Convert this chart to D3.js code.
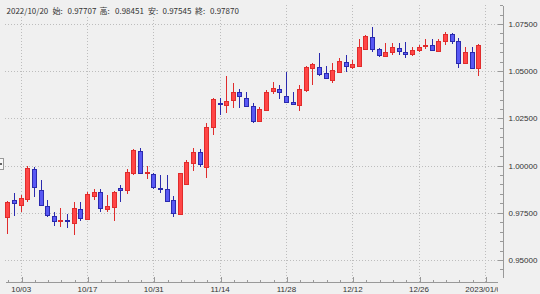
<!DOCTYPE html>
<html>
<head>
<meta charset="utf-8">
<script src="https://cdn.jsdelivr.net/npm/d3@7"></script>
<style>
  body { margin: 0; background: #f0f0f0; }
  svg { display: block; font-family: "Noto Sans CJK JP", "Noto Sans", sans-serif; }
  .axis text { fill: #333; font-size: 8px; }
  .axis line, .axis path { stroke: #999; shape-rendering: crispEdges; }
  .grid line { stroke: #bdbdbd; stroke-dasharray: 1, 2; shape-rendering: crispEdges; }
</style>
</head>
<body>
<div id="chart"></div>
<script>
// daily candles, 2022/09/29 .. 2023/01/06 (weekdays)
var openP = [
  0.9729, 0.9818, 0.9791, 0.9822, 0.9982, 0.9871, 0.9788, 0.9733, 0.9706, 0.9711,
  0.9697, 0.9770, 0.9717, 0.9839, 0.9859, 0.97707, 0.9782, 0.9883, 0.9871, 0.9959,
  1.0079, 0.9960, 0.9954, 0.9880, 0.9876, 0.9818, 0.9744, 0.9905, 1.0015, 1.0074,
  0.9993, 1.0203, 1.0331, 1.0325, 1.0344, 1.0388, 1.0356, 1.0317, 1.0238, 1.0298,
  1.0391, 1.0406, 1.0369, 1.0338, 1.0321, 1.0400, 1.0515, 1.0524, 1.0489, 1.0454,
  1.0497, 1.0550, 1.0521, 1.0528, 1.0621, 1.0680, 1.0616, 1.0582, 1.0600, 1.0621,
  1.0603, 1.0590, 1.0609, 1.0636, 1.0639, 1.0607, 1.0656, 1.0695, 1.0660, 1.0542,
  1.0600, 1.0515]
var highP = [
  0.9810, 0.9856, 0.9844, 0.9999, 0.9994, 0.9924, 0.9818, 0.9756, 0.9774, 0.9744,
  0.9806, 0.9809, 0.9862, 0.9876, 0.9876, 0.98451, 0.9865, 0.9897, 0.9980, 1.0087,
  1.0092, 0.9998, 0.9959, 0.9950, 0.9950, 0.9839, 0.9962, 1.0030, 1.0095, 1.0086,
  1.0224, 1.0356, 1.0356, 1.0475, 1.0436, 1.0404, 1.0391, 1.0330, 1.0309, 1.0400,
  1.0444, 1.0427, 1.0497, 1.0391, 1.0427, 1.0528, 1.0542, 1.0595, 1.0527, 1.0545,
  1.0568, 1.0586, 1.0559, 1.0669, 1.0692, 1.0732, 1.0623, 1.0651, 1.0648, 1.0648,
  1.0656, 1.0627, 1.0637, 1.0668, 1.0670, 1.0669, 1.0706, 1.0700, 1.0674, 1.0630,
  1.0627, 1.0642]
var lowP = [
  0.9636, 0.9733, 0.9756, 0.9809, 0.9835, 0.9788, 0.9726, 0.9680, 0.9673, 0.9668,
  0.9632, 0.9708, 0.9716, 0.9818, 0.9756, 0.97545, 0.9707, 0.9806, 0.9850, 0.9950,
  0.9959, 0.9927, 0.9874, 0.9853, 0.9809, 0.9729, 0.9740, 0.9903, 0.9971, 0.9991,
  0.9933, 1.0162, 1.0268, 1.0277, 1.0303, 1.0303, 1.0312, 1.0224, 1.0233, 1.0295,
  1.0379, 1.0353, 1.0330, 1.0321, 1.0291, 1.0391, 1.0427, 1.0475, 1.0457, 1.0439,
  1.0492, 1.0497, 1.0510, 1.0522, 1.0616, 1.0603, 1.0574, 1.0574, 1.0586, 1.0586,
  1.0568, 1.0580, 1.0603, 1.0615, 1.0607, 1.0603, 1.0639, 1.0644, 1.0519, 1.0538,
  1.0512, 1.0475]
var closeP = [
  0.9809, 0.9800, 0.9827, 0.9986, 0.9885, 0.9791, 0.9739, 0.9707, 0.9711, 0.9707,
  0.9777, 0.9724, 0.9848, 0.9859, 0.9774, 0.97870, 0.9862, 0.9872, 0.9968, 1.0083,
  0.9962, 0.9964, 0.9883, 0.9875, 0.9813, 0.9751, 0.9959, 1.0021, 1.0074, 1.0012,
  1.0206, 1.0353, 1.0327, 1.0344, 1.0388, 1.0365, 1.0316, 1.0236, 1.0300, 1.0391,
  1.0409, 1.0391, 1.0338, 1.0325, 1.0404, 1.0524, 1.0538, 1.0485, 1.0462, 1.0506,
  1.0554, 1.0529, 1.0538, 1.0630, 1.0688, 1.0616, 1.0586, 1.0603, 1.0626, 1.0603,
  1.0591, 1.0612, 1.0627, 1.0639, 1.0612, 1.0660, 1.0695, 1.0660, 1.0542, 1.0600,
  1.0515, 1.0639]

// bottom axis: label every 10 sessions, small tick every 2
var tickIndex = [2, 12, 22, 32, 42, 52, 62, 72]
var tickLabels = ["10/03", "10/17", "10/31", "11/14", "11/28", "12/12", "12/26", "2023/01/09"]
var priceTicks = [0.95, 0.975, 1.0, 1.025, 1.05, 1.075]

// header readout of the hovered day
var headerDate = "2022/10/20"
var headerNames = ["始:", "高:", "安:", "終:"]
var headerIdx = 15

var W = 540, H = 294
var plot = {left: 5, right: 497, top: 5, bottom: 277, axisY: 282, axisX: 502}

var svg = d3.select("#chart").append("svg")
    .attr("width", W)
    .attr("height", H)

svg.append("rect").attr("width", W).attr("height", H).attr("fill", "#f0f0f0")

var x = d3.scaleLinear().domain([-0.37, 73.84]).range([plot.left, plot.right])
var y = d3.scaleLinear().domain([0.94099, 1.08506]).range([plot.bottom, plot.top])

var minorX = d3.range(0, 74, 2)
var minorY = d3.range(189, 218).map(d => d * 0.005)

// grid
var grid = svg.append("g").attr("class", "grid")
grid.selectAll(".gx")
    .data(tickIndex)
    .enter().append("line")
    .attr("x1", d => Math.round(x(d)) + 0.5)
    .attr("x2", d => Math.round(x(d)) + 0.5)
    .attr("y1", plot.top)
    .attr("y2", plot.axisY)
grid.selectAll(".gy")
    .data(priceTicks)
    .enter().append("line")
    .attr("x1", plot.left)
    .attr("x2", plot.axisX)
    .attr("y1", d => Math.round(y(d)) + 0.5)
    .attr("y2", d => Math.round(y(d)) + 0.5)

// header box hides the grid behind the readout
svg.append("rect")
    .attr("x", 0).attr("y", 0)
    .attr("width", 270).attr("height", 17)
    .attr("fill", "#f0f0f0")

// x axis, clipped at the price axis
svg.append("clipPath").attr("id", "xclip")
    .append("rect").attr("x", 0).attr("y", 0).attr("width", 498).attr("height", H)

var xAxisG = svg.append("g")
    .attr("clip-path", "url(#xclip)")
    .append("g")
    .attr("class", "axis")
    .attr("transform", "translate(0," + plot.axisY + ")")

xAxisG.append("g")
    .call(d3.axisBottom(x).tickValues(minorX).tickSize(-2.5).tickSizeOuter(0).tickFormat(""))
xAxisG.append("g")
    .call(d3.axisBottom(x).tickValues(tickIndex).tickSize(-5).tickSizeOuter(0).tickPadding(4.5)
        .tickFormat((d, i) => tickLabels[i]))
    .select(".domain").remove()
xAxisG.selectAll(".tick line").attr("transform", d => "translate(" + (Math.round(x(d)) + 0.5 - x(d)) + ",0)")

// y axis on the right
var yAxisG = svg.append("g")
    .attr("class", "axis")
    .attr("transform", "translate(" + (plot.axisX + 0.5) + ",0)")
yAxisG.append("g")
    .call(d3.axisRight(y).tickValues(minorY).tickSize(-2.5).tickSizeOuter(0).tickFormat(""))
yAxisG.append("g")
    .call(d3.axisRight(y).tickValues(priceTicks).tickSize(-4.5).tickSizeOuter(0).tickPadding(6)
        .tickFormat(d3.format(".5f")))
    .select(".domain").remove()

// candles
var candles = d3.range(openP.length).map(function(i) {
    return {i: i, o: openP[i], h: highP[i], l: lowP[i], c: closeP[i]}
})

var up = {fill: "#ff4646", stroke: "#e02c2c"}
var down = {fill: "#5858f4", stroke: "#2a2aae"}

var cg = svg.append("g").attr("shape-rendering", "crispEdges")
var candle = cg.selectAll(".candle")
    .data(candles)
    .enter().append("g")
    .attr("class", "candle")

candle.append("line")
    .attr("x1", d => Math.round(x(d.i)) + 0.5)
    .attr("x2", d => Math.round(x(d.i)) + 0.5)
    .attr("y1", d => y(d.h))
    .attr("y2", d => y(d.l))
    .attr("stroke", d => d.c >= d.o ? up.stroke : down.stroke)

candle.append("rect")
    .attr("x", d => Math.round(x(d.i)) - 2 + 0.5)
    .attr("width", 4)
    .attr("y", d => Math.round(y(Math.max(d.o, d.c))) + 0.5)
    .attr("height", d => Math.max(1, Math.round(Math.abs(y(d.o) - y(d.c)))))
    .attr("fill", d => d.c >= d.o ? up.fill : down.fill)
    .attr("stroke", d => d.c >= d.o ? up.stroke : down.stroke)

// scroll marker at the left edge
svg.append("rect")
    .attr("x", -4.5).attr("y", 158.5)
    .attr("width", 8).attr("height", 11)
    .attr("fill", "#f8f8f8").attr("stroke", "#999")
svg.append("circle")
    .attr("cx", 1).attr("cy", 164).attr("r", 1)
    .attr("fill", "#333")

// header readout
var hd = candles[headerIdx]
var fmt = d3.format(".5f")
var headerParts = [
    [6.5, headerDate],
    [52.5, headerNames[0]], [67.5, fmt(hd.o)],
    [99.5, headerNames[1]], [115, fmt(hd.h)],
    [148, headerNames[2]], [162.5, fmt(hd.l)],
    [195, headerNames[3]], [210, fmt(hd.c)]
]
svg.append("g")
    .selectAll("text")
    .data(headerParts)
    .enter().append("text")
    .attr("x", d => d[0])
    .attr("y", 14)
    .attr("fill", "#333")
    .style("font-size", "8px")
    .text(d => d[1])
</script>
</body>
</html>
